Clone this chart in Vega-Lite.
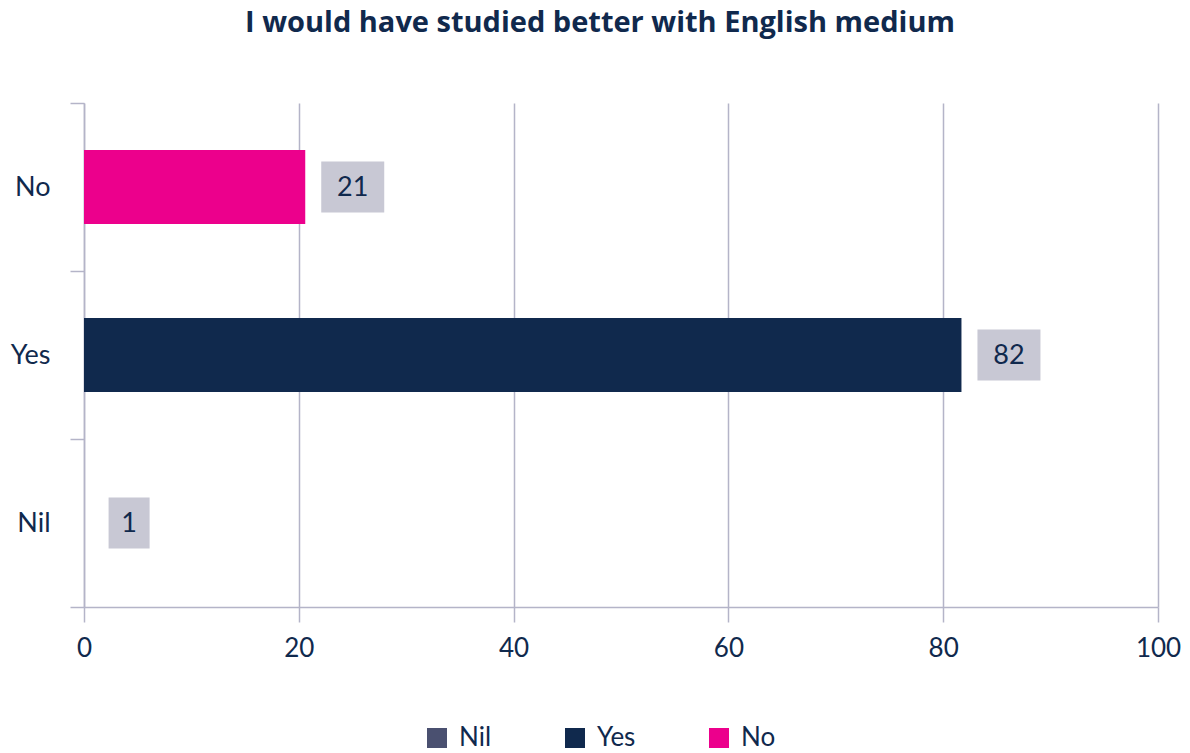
{
  "$schema": "https://vega.github.io/schema/vega-lite/v6.json",
  "autosize": "none",
  "width": 1074,
  "height": 504,
  "padding": {"left": 84, "top": 103, "right": 32, "bottom": 146},
  "background": "white",
  "config": {
    "font": "Lato",
    "view": {"stroke": null},
    "axis": {"labelColor": "#10294d", "labelFont": "Lato", "domainColor": "#b4b4c8", "tickColor": "#b4b4c8", "gridColor": "#b4b4c8", "domainWidth": 1.5, "tickWidth": 1.5, "gridWidth": 1.5}
  },
  "title": {"text": "I would have studied better with English medium", "fontSize": 29, "fontWeight": "bold", "color": "#10294d", "font": "Open Sans", "anchor": "middle", "frame": "group", "dx": -21, "offset": 51},
  "data": {"values": [
    {"answer": "No", "value": 20.6},
    {"answer": "Yes", "value": 81.7},
    {"answer": "Nil", "value": 0.8}
  ]},
  "layer": [
    {
      "mark": {"type": "bar", "height": 74},
      "encoding": {
        "y": {"field": "answer", "type": "nominal", "sort": ["No", "Yes", "Nil"], "scale": {"paddingInner": 0, "paddingOuter": 0},
          "axis": {"title": null, "tickBand": "extent", "tickSize": 14, "labelPadding": 20, "labelFontSize": 27, "grid": false, "domain": true}},
        "x": {"field": "value", "type": "quantitative", "scale": {"domain": [0, 100], "nice": false},
          "axis": {"title": null, "values": [0, 20, 40, 60, 80, 100], "tickSize": 15, "labelPadding": 13, "labelFontSize": 26, "labelFlush": false, "grid": true, "domain": true}},
        "color": {"field": "answer", "type": "nominal",
          "scale": {"domain": ["Nil", "Yes", "No"], "range": ["#4a5070", "#10294d", "#ec008c"]},
          "legend": {"title": null, "orient": "none", "direction": "horizontal", "legendX": 340, "legendY": 622, "symbolType": "square", "symbolSize": 400, "symbolStrokeWidth": 0, "symbolOpacity": 1, "labelFontSize": 26, "labelColor": "#10294d", "labelFont": "Lato", "labelOffset": 9, "columnPadding": 70}},
        "opacity": {"condition": {"test": "datum.answer === 'Nil'", "value": 0}, "value": 1}
      }
    },
    {
      "transform": [{"filter": "datum.value >= 9.5"}],
      "mark": {"type": "bar", "color": "#c8c8d4", "height": 51, "xOffset": 16, "x2Offset": 79},
      "encoding": {
        "y": {"field": "answer", "type": "nominal", "sort": ["No", "Yes", "Nil"]},
        "x": {"field": "value", "type": "quantitative"},
        "x2": {"field": "value"}
      }
    },
    {
      "transform": [{"filter": "datum.value < 9.5"}],
      "mark": {"type": "bar", "color": "#c8c8d4", "height": 51, "xOffset": 16, "x2Offset": 57},
      "encoding": {
        "y": {"field": "answer", "type": "nominal", "sort": ["No", "Yes", "Nil"]},
        "x": {"field": "value", "type": "quantitative"},
        "x2": {"field": "value"}
      }
    },
    {
      "transform": [{"filter": "datum.value >= 9.5"}],
      "mark": {"type": "text", "align": "center", "baseline": "middle", "dx": 47.5, "dy": 1, "fontSize": 27, "color": "#10294d"},
      "encoding": {
        "y": {"field": "answer", "type": "nominal", "sort": ["No", "Yes", "Nil"]},
        "x": {"field": "value", "type": "quantitative"},
        "text": {"field": "value", "type": "quantitative", "format": ".0f"}
      }
    },
    {
      "transform": [{"filter": "datum.value < 9.5"}],
      "mark": {"type": "text", "align": "center", "baseline": "middle", "dx": 36.5, "dy": 1, "fontSize": 27, "color": "#10294d"},
      "encoding": {
        "y": {"field": "answer", "type": "nominal", "sort": ["No", "Yes", "Nil"]},
        "x": {"field": "value", "type": "quantitative"},
        "text": {"field": "value", "type": "quantitative", "format": ".0f"}
      }
    }
  ]
}
